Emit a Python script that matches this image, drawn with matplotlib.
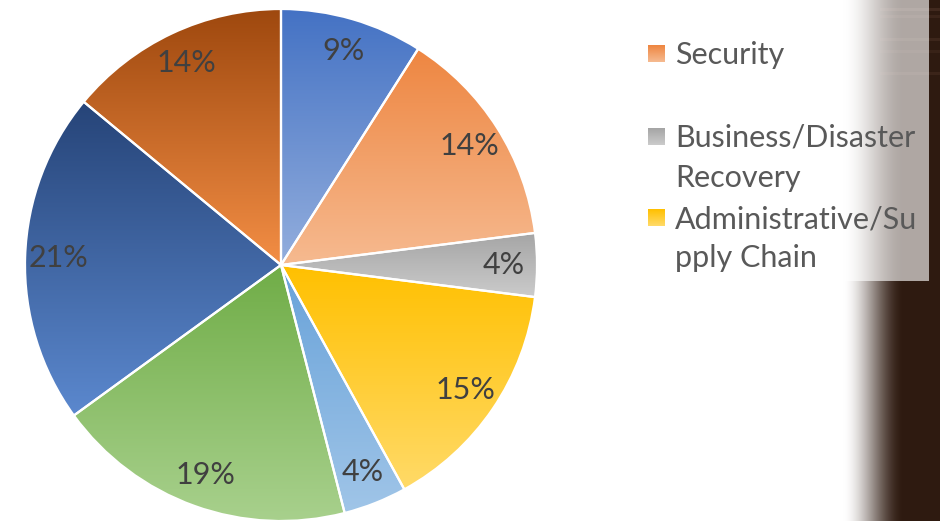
import numpy as np
import matplotlib.pyplot as plt
from matplotlib.colors import to_rgb
from matplotlib.patches import Rectangle

plt.rcParams['font.family'] = ['Lato', 'DejaVu Sans']

# 파이 조각 (12시 방향부터 시계 방향)
shares = [9, 14, 4, 15, 4, 19, 21, 14]
pct_labels = ['9%', '14%', '4%', '15%', '4%', '19%', '21%', '14%']
top_colors = ['#4472C4', '#EE8641', '#A5A5A5', '#FFC000',
              '#68A2D9', '#70AD47', '#264478', '#9E480E']
bottom_colors = ['#93AEDD', '#F6BA90', '#CBCBCB', '#FFDA68',
                 '#A0C5E8', '#A9D18E', '#5B88CE', '#F38E45']

# 범례 (잘린 항목 그대로)
legend_names = ['Security', 'Business/Disaster\nRecovery', 'Administrative/Su\npply Chain']
legend_idx = [1, 2, 3]

W, H = 940, 521
fig = plt.figure(figsize=(9.4, 5.21), dpi=100)
ax = fig.add_axes([0, 0, 1, 1])
ax.set_xlim(0, W)
ax.set_ylim(0, H)
ax.axis('off')

# 오른쪽 배경 (흰색 -> 짙은 갈색), 0행이 맨 위
xs = np.arange(W)
t = np.clip((xs - 842) / 62.0, 0, 1)
t = t * t * (3 - 2 * t)
brown = np.array(to_rgb('#2E1A10'))
bg = np.ones((H, W, 3)) * (1 - t)[None, :, None] + brown[None, None, :] * t[None, :, None]
for row, amt in [(8, 0.15), (15, 0.1), (38, 0.12), (50, 0.08), (72, 0.1)]:
    bg[row:row + 3, 880:] = bg[row:row + 3, 880:] * (1 - amt) + np.array(to_rgb('#B08070')) * amt
ax.imshow(bg, extent=(0, W, 0, H), origin='upper', zorder=0)

# 범례 상자
ax.add_patch(Rectangle((600, H - 281), 329, 281, facecolor='white', alpha=0.62,
                       edgecolor='none', zorder=1))

cx, cy, r = 281, H - 265, 256
wedges, texts = ax.pie(shares, center=(cx, cy), radius=r, startangle=90,
                       counterclock=False, labels=pct_labels, labeldistance=0.87,
                       wedgeprops=dict(edgecolor='white', linewidth=1.6),
                       textprops=dict(color='#404040', fontsize=22))
ax.set_xlim(0, W)
ax.set_ylim(0, H)
ax.set_aspect('equal')

def gradient_fill(wedge, c_top, c_bot):
    verts = wedge.get_patch_transform().transform(wedge.get_path().vertices)
    x0, y0 = verts.min(axis=0)
    x1, y1 = verts.max(axis=0)
    s = np.linspace(0, 1, 256)[:, None]
    img = np.array(to_rgb(c_top))[None, :] * (1 - s) + np.array(to_rgb(c_bot))[None, :] * s
    img = np.repeat(img[:, None, :], 2, axis=1)
    im = ax.imshow(img, extent=(x0, x1, y0, y1), origin='upper', zorder=2,
                   interpolation='bilinear', aspect='auto')
    im.set_clip_path(wedge)
    wedge.set_facecolor('none')
    wedge.set_zorder(3)

for w, ct, cb in zip(wedges, top_colors, bottom_colors):
    gradient_fill(w, ct, cb)
for tx in texts:
    tx.set_zorder(4)
    tx.set_ha('center')
    tx.set_va('center')

# 범례 그리기
legend_y = [53, 136, 217]
for name, i, y in zip(legend_names, legend_idx, legend_y):
    s = np.linspace(0, 1, 32)[:, None]
    sq = np.array(to_rgb(top_colors[i]))[None, :] * (1 - s) + np.array(to_rgb(bottom_colors[i]))[None, :] * s
    sq = np.repeat(sq[:, None, :], 2, axis=1)
    ax.imshow(sq, extent=(648, 665, H - y - 9, H - y + 8), origin='upper', zorder=5, aspect='auto')
    ax.text(675, H - y + 12, name, color='#595959', fontsize=22, va='top', ha='left',
            linespacing=1.5, zorder=5)

ax.set_xlim(0, W)
ax.set_ylim(0, H)

fig.savefig('out.png', dpi=100)
